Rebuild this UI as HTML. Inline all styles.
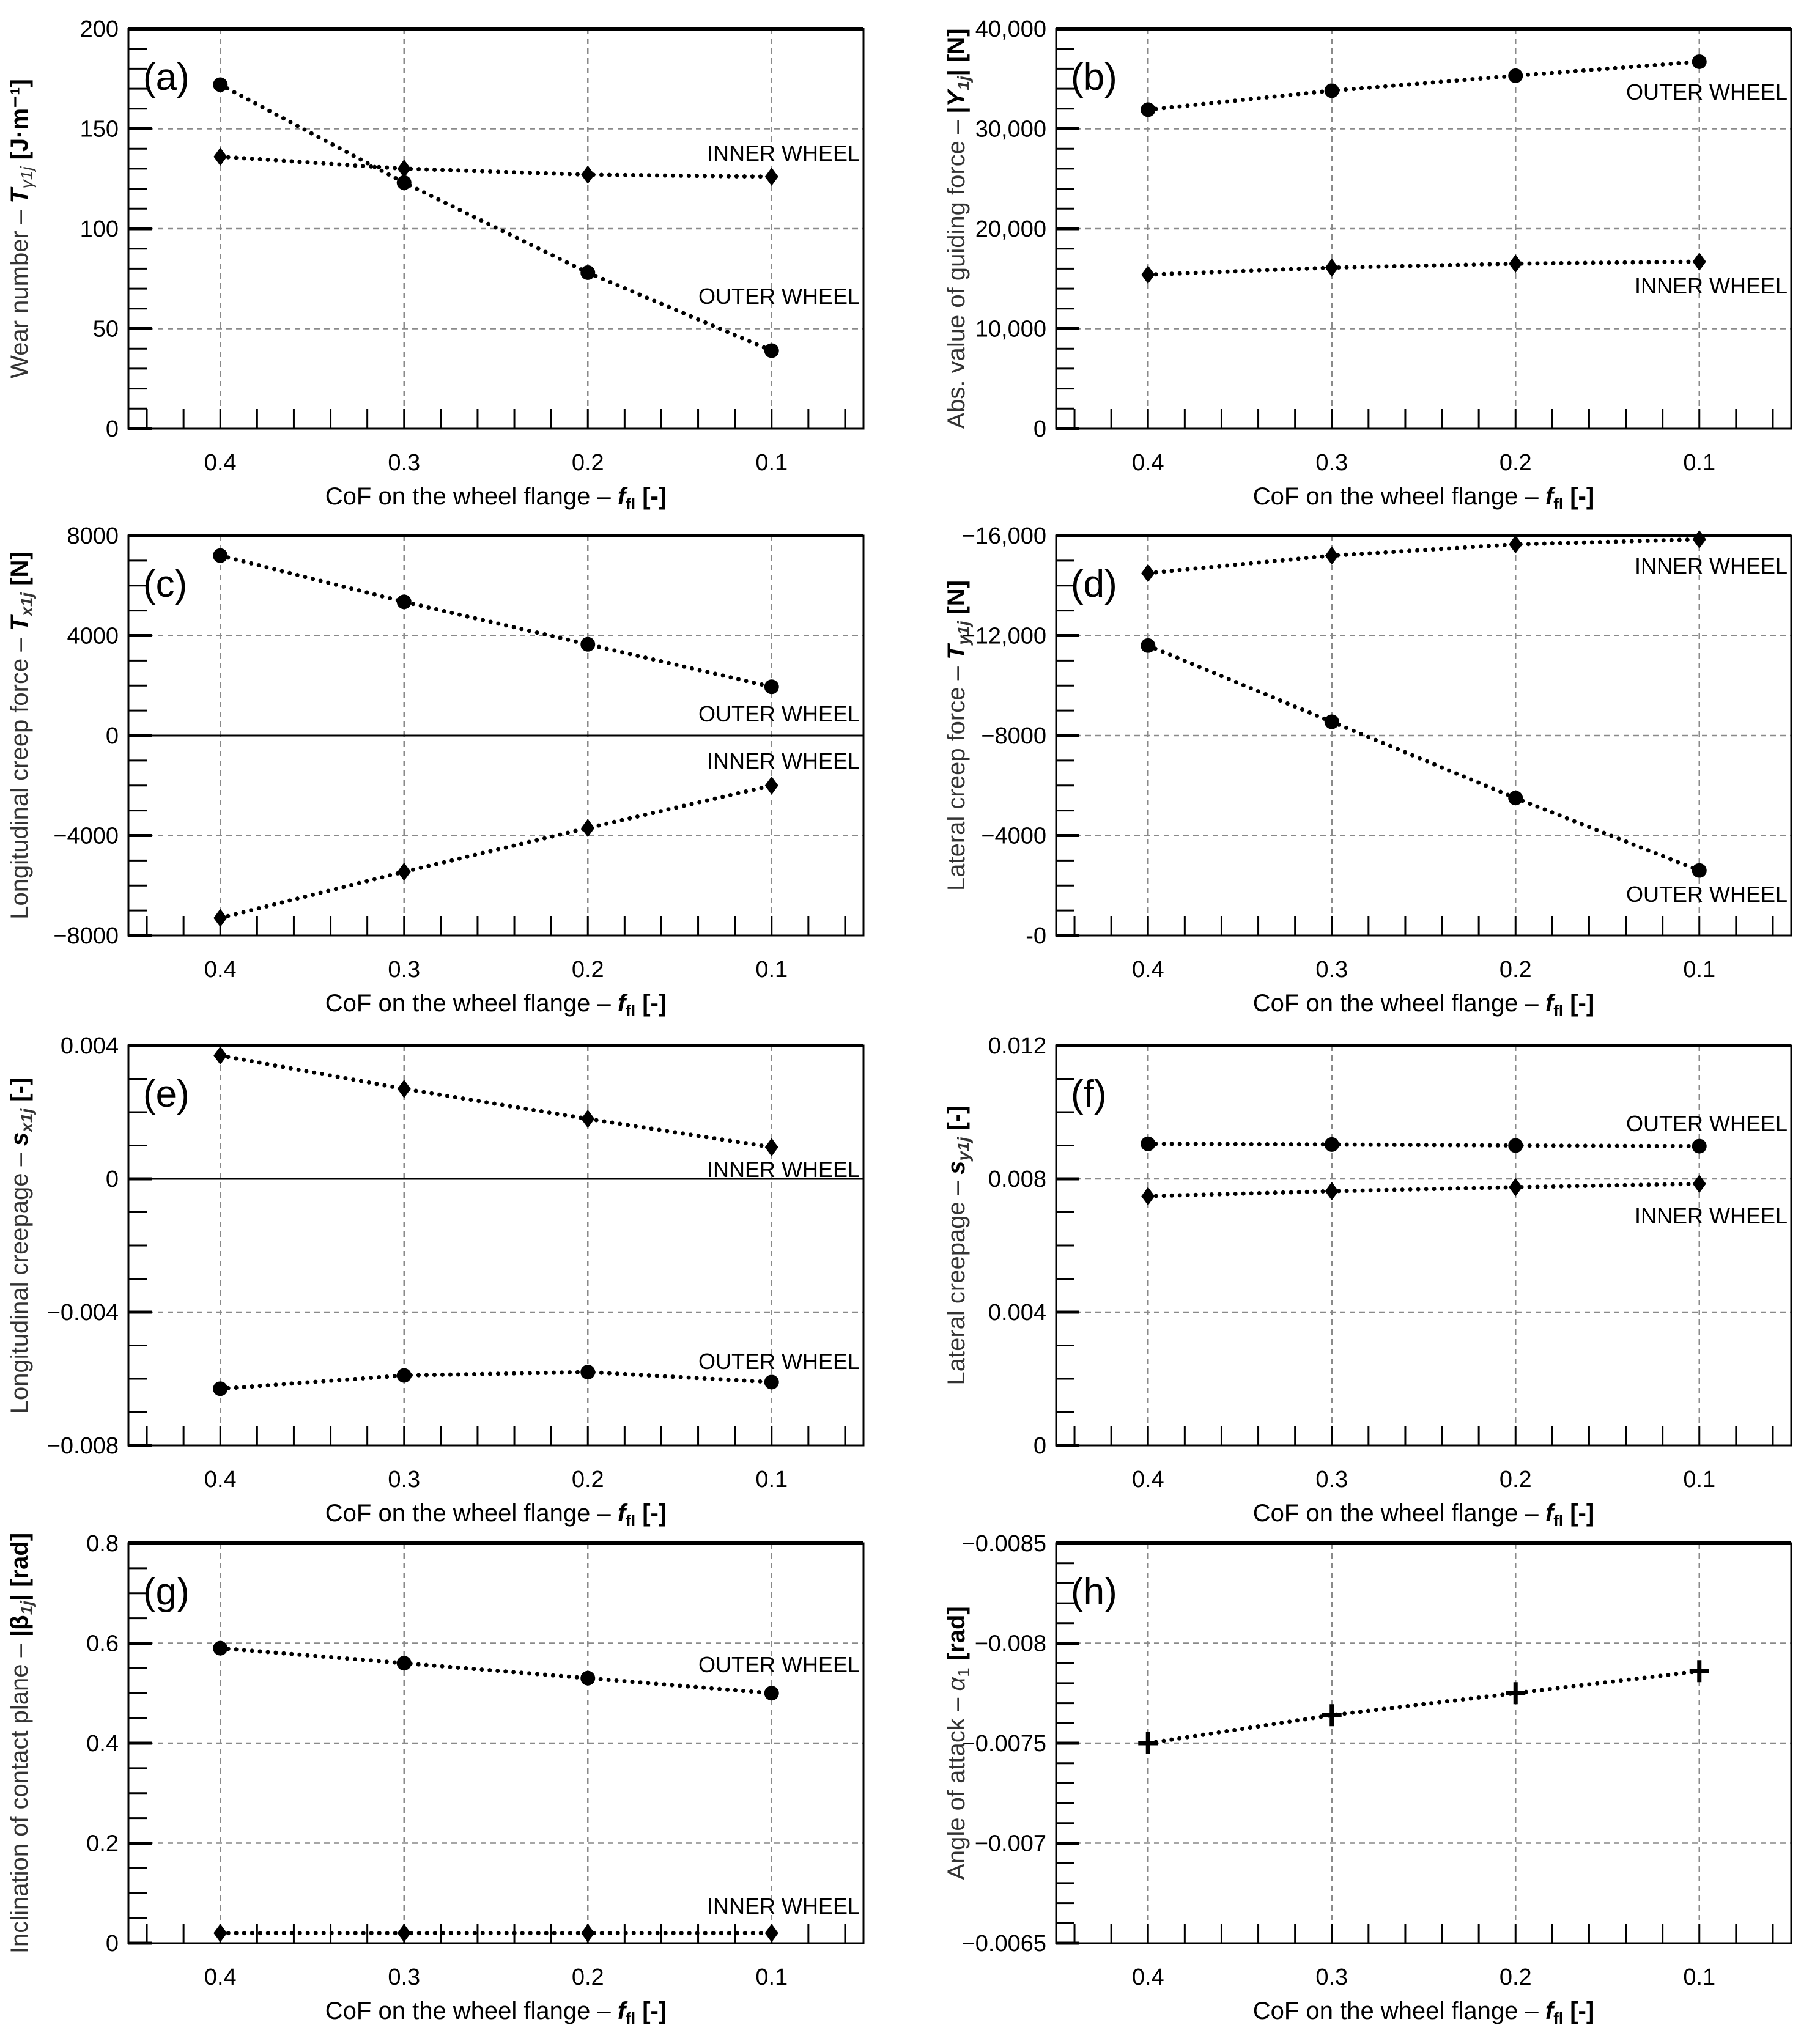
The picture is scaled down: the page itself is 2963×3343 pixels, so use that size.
<!DOCTYPE html>
<html><head><meta charset="utf-8"><style>
html,body{margin:0;padding:0;background:#fff;}
svg{display:block;font-family:"Liberation Sans",Arial,sans-serif;}
</style></head><body>
<svg id="fig" width="2963" height="3343" viewBox="0 0 2963 3343" xmlns="http://www.w3.org/2000/svg"></svg>
<script>
const xCats = [0.4, 0.3, 0.2, 0.1];
const xTickLabels = ["0.4","0.3","0.2","0.1"];
// panel a
const aOuter = [172, 123, 78, 39];
const aInner = [136, 130, 127, 126];
const aTicks = [0,50,100,150,200];
const aTickLabels = ["0","50","100","150","200"];
// panel b
const bOuter = [31900, 33800, 35300, 36700];
const bInner = [15400, 16100, 16500, 16700];
const bTicks = [0,10000,20000,30000,40000];
const bTickLabels = ["0","10,000","20,000","30,000","40,000"];
// panel c
const cOuter = [7200, 5350, 3650, 1950];
const cInner = [-7300, -5450, -3700, -2000];
const cTicks = [-8000,-4000,0,4000,8000];
const cTickLabels = ["\u22128000","\u22124000","0","4000","8000"];
// panel d
const dInner = [-14500, -15200, -15650, -15850];
const dOuter = [-11600, -8550, -5500, -2600];
const dTicks = [0,-4000,-8000,-12000,-16000];
const dTickLabels = ["-0","\u22124000","\u22128000","\u221212,000","\u221216,000"];
// panel e
const eInner = [0.0037, 0.0027, 0.0018, 0.00095];
const eOuter = [-0.0063, -0.0059, -0.0058, -0.0061];
const eTicks = [-0.008,-0.004,0,0.004];
const eTickLabels = ["\u22120.008","\u22120.004","0","0.004"];
// panel f
const fOuter = [0.00905, 0.00903, 0.00900, 0.00898];
const fInner = [0.00748, 0.00763, 0.00775, 0.00785];
const fTicks = [0,0.004,0.008,0.012];
const fTickLabels = ["0","0.004","0.008","0.012"];
// panel g
const gOuter = [0.59, 0.56, 0.53, 0.50];
const gInner = [0.02, 0.02, 0.02, 0.02];
const gTicks = [0,0.2,0.4,0.6,0.8];
const gTickLabels = ["0","0.2","0.4","0.6","0.8"];
// panel h
const hAttack = [-0.0075, -0.00764, -0.00775, -0.00786];
const hTicks = [-0.0065,-0.007,-0.0075,-0.008,-0.0085];
const hTickLabels = ["\u22120.0065","\u22120.007","\u22120.0075","\u22120.008","\u22120.0085"];

const NS = "http://www.w3.org/2000/svg";
const svg = document.getElementById('fig');
function el(tag, attrs, parent){
  const e = document.createElementNS(NS, tag);
  for (const k in attrs) e.setAttribute(k, attrs[k]);
  (parent||svg).appendChild(e);
  return e;
}

function panel(o){
  const g = el('g', {});
  
  
  const L=o.x, R=o.x+1202, T=o.y, B=o.y+654;
  const xs = v => L + (0.45 - v) / 0.4 * (R - L);
  const ys = v => B - (v - o.ymin) / (o.ymax - o.ymin) * (B - T);
  xCats.forEach(v=>{
    const ln = el('line',{x1:xs(v),x2:xs(v),y1:T,y2:B,stroke:'#8a8a8a','stroke-width':2.5,'stroke-dasharray':'9 7'},g);
    
    
  });
  o.ticks.forEach(v=>{
    if (v===o.ymin||v===o.ymax) return;
    const isZ = (v===0&&o.zero);
    const ln = el('line',{x1:L,x2:R,y1:ys(v),y2:ys(v),stroke: isZ?'#000':'#8a8a8a','stroke-width':isZ?3:2.5,'stroke-dasharray':isZ?'none':'9 7'},g);
    
    
  });
  const step = o.ticks[1]-o.ticks[0];
  const lo=Math.min(o.ymin,o.ymax), hi=Math.max(o.ymin,o.ymax);
  const ms = Math.abs(step)/o.minor;
  for (let i=0;i<=Math.round((hi-lo)/ms);i++){
    const v = lo + i*ms;
    const major = (i % o.minor)===0;
    el('line',{x1:L,x2:L+(major?38:30),y1:ys(v),y2:ys(v),stroke:'#000','stroke-width':major?5:3},g);
  }
  for (let k=0;k<=19;k++){
    const v = 0.44 - k*0.02;
    if (v < 0.055) break;
    el('line',{x1:xs(v),x2:xs(v),y1:B,y2:B-32,stroke:'#000','stroke-width':3},g);
  }
  el('rect',{x:L,y:T,width:R-L,height:B-T,fill:'none',stroke:'#000','stroke-width':3},g);
  el('line',{x1:L,x2:R,y1:T,y2:T,stroke:'#000','stroke-width':6},g);
  o.ticks.forEach((v,i)=>{
    const t = el('text',{x:L-16,y:ys(v)+13,'text-anchor':'end','font-size':38,fill:'#000'},g);
    t.textContent = o.tickLabels[i];
    
    
  });
  xCats.forEach((v,i)=>{
    const t = el('text',{x:xs(v),y:B+68,'text-anchor':'middle','font-size':38,fill:'#000'},g);
    t.textContent = xTickLabels[i];
    
    
  });
  const xt = el('text',{x:(L+R)/2,y:B+124,'text-anchor':'middle','font-size':40,fill:'#000'},g);
  
  
  xt.innerHTML = 'CoF on the wheel flange \u2013 <tspan font-weight="bold" font-style="italic">f</tspan><tspan font-weight="bold" font-size="26" dy="8">fl</tspan><tspan dy="-8" font-weight="bold"> [-]</tspan>';
  const cy=(T+B)/2, cx=o.x-(o.right?150:165);
  const yt = el('text',{x:cx,y:cy,'text-anchor':'middle','font-size':40,fill:'#333',transform:`rotate(-90 ${cx} ${cy})`},g);
  
  
  yt.innerHTML = o.ytitle;
  const pl = el('text',{x:L+24,y:T+100,'font-size':62,fill:'#000'},g);
  pl.textContent = '('+o.id+')';
  
  
  o.series.forEach(s=>{
    const pts = s.vals.map((v,i)=>xs(xCats[i])+','+ys(v)).join(' ');
    const pl2 = el('polyline',{points:pts,fill:'none',stroke:'#000','stroke-width':7,'stroke-dasharray':'0 13','stroke-linecap':'round'},g);
    
    
    s.vals.forEach((v,i)=>{
      const x=xs(xCats[i]), y=ys(v);
      let m;
      if (s.marker==='circle') m = el('circle',{cx:x,cy:y,r:12,fill:'#000'},g);
      else if (s.marker==='diamond') m = el('polygon',{points:`${x},${y-15} ${x+11},${y} ${x},${y+15} ${x-11},${y}`,fill:'#000'},g);
      else m = el('path',{d:`M${x-16},${y}H${x+16}M${x},${y-18}V${y+18}`,stroke:'#000','stroke-width':7,fill:'none'},g);
      
      
    });
  });
  (o.labels||[]).forEach(l=>{
    const t = el('text',{x:R-6,y:l.y,'text-anchor':'end','font-size':36,fill:'#000'},g);
    t.textContent = l.text;
    
    
  });
}

const LX=210, RX=1727;
const rows=[47, 876, 1710, 2524];
const B = '<tspan font-weight="bold" fill="#000">';
panel({id:'a',x:LX,y:rows[0],ymin:0,ymax:200,ticks:aTicks,tickLabels:aTickLabels,minor:5,
  ytitle:'Wear number \u2013 '+B+'<tspan font-style="italic">T</tspan></tspan><tspan font-style="italic" font-size="28" dy="8">\u03b31j</tspan><tspan dy="-8"> </tspan>'+B+'[J\u00b7m\u207b\u00b9]</tspan>',
  series:[{name:'outer-wheel',vals:aOuter,marker:'circle'},{name:'inner-wheel',vals:aInner,marker:'diamond'}],
  labels:[{text:'INNER WHEEL',y:263},{text:'OUTER WHEEL',y:497}]});
panel({id:'b',x:RX,y:rows[0],right:true,ymin:0,ymax:40000,ticks:bTicks,tickLabels:bTickLabels,minor:5,
  ytitle:'Abs. value of guiding force \u2013 '+B+'|<tspan font-style="italic">Y</tspan></tspan><tspan font-weight="bold" font-style="italic" font-size="28" dy="8">1j</tspan>'+B.replace('>',' dy="-8">')+'| [N]</tspan>',
  series:[{name:'outer-wheel',vals:bOuter,marker:'circle'},{name:'inner-wheel',vals:bInner,marker:'diamond'}],
  labels:[{text:'OUTER WHEEL',y:163},{text:'INNER WHEEL',y:480}]});
panel({id:'c',x:LX,y:rows[1],ymin:-8000,ymax:8000,ticks:cTicks,tickLabels:cTickLabels,minor:4,zero:true,
  ytitle:'Longitudinal creep force \u2013 '+B+'<tspan font-style="italic">T</tspan></tspan><tspan font-weight="bold" font-style="italic" font-size="28" dy="8">x1j</tspan>'+B.replace('>',' dy="-8">')+' [N]</tspan>',
  series:[{name:'outer-wheel',vals:cOuter,marker:'circle'},{name:'inner-wheel',vals:cInner,marker:'diamond'}],
  labels:[{text:'OUTER WHEEL',y:1180},{text:'INNER WHEEL',y:1257}]});
panel({id:'d',x:RX,y:rows[1],right:true,ymin:0,ymax:-16000,ticks:dTicks,tickLabels:dTickLabels,minor:4,
  ytitle:'Lateral creep force \u2013 '+B+'<tspan font-style="italic">T</tspan></tspan><tspan font-weight="bold" font-style="italic" font-size="28" dy="8">y1j</tspan>'+B.replace('>',' dy="-8">')+' [N]</tspan>',
  series:[{name:'inner-wheel',vals:dInner,marker:'diamond'},{name:'outer-wheel',vals:dOuter,marker:'circle'}],
  labels:[{text:'INNER WHEEL',y:938},{text:'OUTER WHEEL',y:1475}]});
panel({id:'e',x:LX,y:rows[2],ymin:-0.008,ymax:0.004,ticks:eTicks,tickLabels:eTickLabels,minor:4,zero:true,
  ytitle:'Longitudinal creepage \u2013 '+B+'<tspan font-style="italic">s</tspan></tspan><tspan font-weight="bold" font-style="italic" font-size="28" dy="8">x1j</tspan>'+B.replace('>',' dy="-8">')+' [-]</tspan>',
  series:[{name:'inner-wheel',vals:eInner,marker:'diamond'},{name:'outer-wheel',vals:eOuter,marker:'circle'}],
  labels:[{text:'INNER WHEEL',y:1925},{text:'OUTER WHEEL',y:2239}]});
panel({id:'f',x:RX,y:rows[2],right:true,ymin:0,ymax:0.012,ticks:fTicks,tickLabels:fTickLabels,minor:4,
  ytitle:'Lateral creepage \u2013 '+B+'<tspan font-style="italic">s</tspan></tspan><tspan font-weight="bold" font-style="italic" font-size="28" dy="8">y1j</tspan>'+B.replace('>',' dy="-8">')+' [-]</tspan>',
  series:[{name:'outer-wheel',vals:fOuter,marker:'circle'},{name:'inner-wheel',vals:fInner,marker:'diamond'}],
  labels:[{text:'OUTER WHEEL',y:1850},{text:'INNER WHEEL',y:2001}]});
panel({id:'g',x:LX,y:rows[3],ymin:0,ymax:0.8,ticks:gTicks,tickLabels:gTickLabels,minor:4,
  ytitle:'Inclination of contact plane \u2013 '+B+'|\u03b2</tspan><tspan font-weight="bold" font-style="italic" font-size="28" dy="8">1j</tspan>'+B.replace('>',' dy="-8">')+'| [rad]</tspan>',
  series:[{name:'outer-wheel',vals:gOuter,marker:'circle'},{name:'inner-wheel',vals:gInner,marker:'diamond'}],
  labels:[{text:'OUTER WHEEL',y:2735},{text:'INNER WHEEL',y:3130}]});
panel({id:'h',x:RX,y:rows[3],right:true,ymin:-0.0065,ymax:-0.0085,ticks:hTicks,tickLabels:hTickLabels,minor:5,
  ytitle:'Angle of attack \u2013 <tspan font-style="italic">\u03b1</tspan><tspan font-size="28" dy="8">1</tspan><tspan dy="-8"> </tspan>'+B+'[rad]</tspan>',
  series:[{name:'angle-of-attack',vals:hAttack,marker:'cross'}],
  labels:[]});
</script>
</body></html>
